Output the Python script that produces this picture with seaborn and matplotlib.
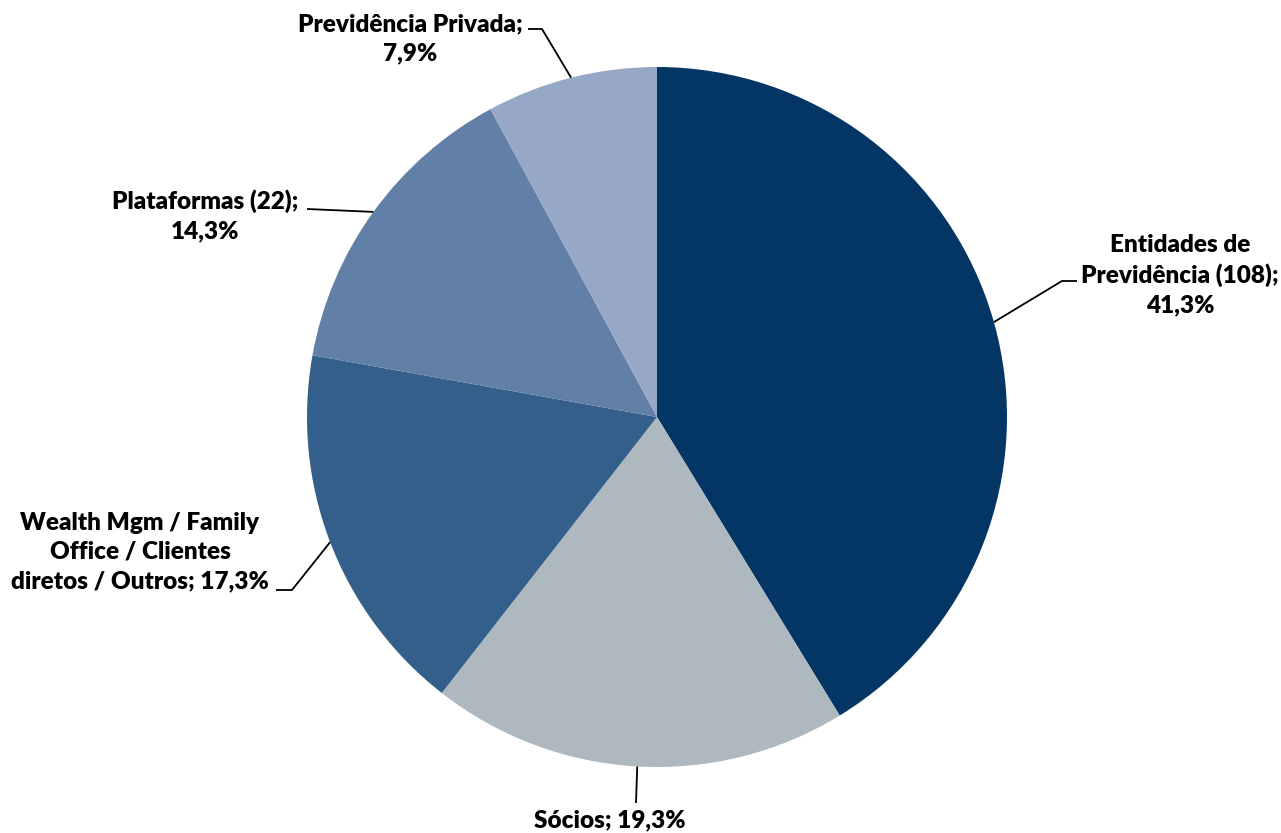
import numpy as np
import matplotlib
matplotlib.use("Agg")
import matplotlib.pyplot as plt
import seaborn as sns

# Distribution of the investor base by segment (%)
segments = [
    "Entidades de\nPrevidência (108);",
    "Sócios;",
    "Wealth Mgm / Family\nOffice / Clientes\ndiretos / Outros;",
    "Plataformas (22);",
    "Previdência Privada;",
]
shares = [41.3, 19.3, 17.3, 14.3, 7.9]
share_labels = ["41,3%", "19,3%", "17,3%", "14,3%", "7,9%"]
inline_pct = [False, True, True, False, False]
colors = ["#033665", "#AEB8BF", "#345F8A", "#6280A7", "#97A8C6"]

W, H = 1281, 833

sns.set_theme(style="white")
plt.rcParams["font.family"] = ["Lato", "DejaVu Sans"]

fig = plt.figure(figsize=(W / 100, H / 100), dpi=100)
ax = fig.add_axes([0, 0, 1, 1])


def px(x, y):
    """Figure pixel (origin top-left) to axes data coordinates."""
    return x, H - y


center = px(657, 417)
radius = 350
wedges, _ = ax.pie(
    shares,
    colors=sns.color_palette(colors),
    startangle=90,
    counterclock=False,
    center=center,
    radius=radius,
    wedgeprops=dict(linewidth=0),
)

# label block centres and leader elbows (pixel layout)
label_pos = [(1180, 275), (610, 820), (140, 552), (205, 216), (410, 39)]
elbows = [
    [(1062, 281), (1077, 281)],
    [(636, 803)],
    [(292, 590), (276, 590)],
    [(307, 209)],
    [(542, 29), (528, 29)],
]

for w, seg, lab, inline, pos, elb in zip(
    wedges, segments, share_labels, inline_pct, label_pos, elbows
):
    mid = np.deg2rad((w.theta1 + w.theta2) / 2)
    ex = center[0] + radius * np.cos(mid)
    ey = center[1] + radius * np.sin(mid)
    pts = [(ex, ey)] + [px(*p) for p in elb]
    xs, ys = zip(*pts)
    ax.plot(xs, ys, color="black", lw=1.3, solid_capstyle="butt")
    text = f"{seg} {lab}" if inline else f"{seg}\n{lab}"
    ax.text(*px(*pos), text, ha="center", va="center", fontsize=17.5,
            fontweight="heavy", color="black", linespacing=1.38)

ax.set_xlim(0, W)
ax.set_ylim(0, H)
ax.set_aspect("equal")
ax.axis("off")
fig.savefig("out.png", dpi=100, facecolor="white")
